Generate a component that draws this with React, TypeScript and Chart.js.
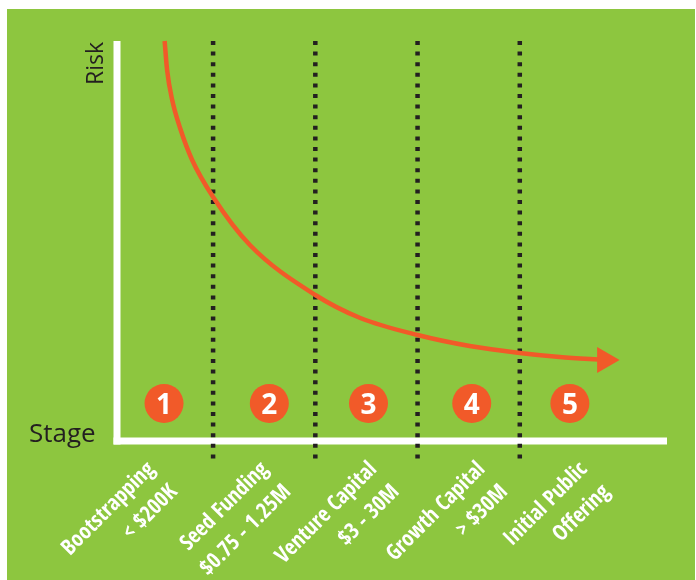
import React, { useEffect, useRef } from "react";
import { Chart, registerables } from "chart.js";

Chart.register(...registerables);

// ---- data ----
const stageLabels: string[][] = [
  ["Bootstrapping", "< $200K"],
  ["Seed Funding", "$0.75 - 1.25M"],
  ["Venture Capital", "$3 - 30M"],
  ["Growth Capital", "> $30M"],
  ["Initial Public", "Offering"],
];
const stageNumbers = ["1", "2", "3", "4", "5"];
const stageMarkerX = [0.52, 1.55, 2.52, 3.53, 4.49];
const stageMarkerY = [9.4, 9.4, 9.4, 9.4, 9.4];
const stageLabelX = [0.4, 1.51, 2.57, 3.63, 4.63];
const stageBoundaries = [1, 2, 3, 4];
const riskCurveX = [0.526, 0.55, 0.6, 0.677, 0.795, 1.0, 1.36, 2.0, 2.44, 3.0, 3.51, 4.0, 4.39, 4.83];
const riskCurveY = [100, 92.75, 85.25, 78.25, 70.25, 61, 49, 36.5, 30.75, 26.5, 23.75, 22, 21, 20.25];
const yAxisTitle = "Risk";
const xAxisTitle = "Stage";

const GREEN = "#8DC63F";
const ORANGE = "#F15A29";
const DARK = "#231F20";

const decor = {
  id: "decor",
  beforeDraw(chart: any) {
    const { ctx, width, height } = chart;
    ctx.save();
    ctx.fillStyle = "#ffffff";
    ctx.fillRect(0, 0, width, height);
    ctx.fillStyle = GREEN;
    ctx.fillRect(7, 9, 688, 571);
    ctx.restore();
  },
  beforeDatasetsDraw(chart: any) {
    const { ctx, chartArea, scales } = chart;
    const { left, right, top, bottom } = chartArea;
    const x = scales.x;
    ctx.save();
    // axes
    ctx.fillStyle = "#ffffff";
    ctx.fillRect(left - 3.5, top, 7, bottom - top + 3.5);
    ctx.fillRect(left - 3.5, bottom - 3.5, right - left + 3.5, 7);
    // dotted stage boundaries
    ctx.strokeStyle = DARK;
    ctx.lineWidth = 4.5;
    ctx.lineCap = "butt";
    ctx.setLineDash([4, 6.6]);
    stageBoundaries.forEach((v) => {
      const px = x.getPixelForValue(v);
      ctx.beginPath();
      ctx.moveTo(px, top);
      ctx.lineTo(px, bottom + 21);
      ctx.stroke();
    });
    ctx.setLineDash([]);
    // axis titles
    ctx.fillStyle = DARK;
    ctx.font = '26px "Open Sans"';
    ctx.textAlign = "left";
    ctx.textBaseline = "alphabetic";
    ctx.fillText(xAxisTitle, 29, bottom + 1);
    ctx.translate(103, top + 1);
    ctx.rotate(-Math.PI / 2);
    ctx.textAlign = "right";
    ctx.font = '23px "Open Sans"';
    ctx.fillText(yAxisTitle, 0, 0);
    ctx.restore();
  },
  afterDatasetsDraw(chart: any) {
    const { ctx } = chart;
    const meta = chart.getDatasetMeta(1);
    ctx.save();
    ctx.fillStyle = "#ffffff";
    ctx.font = 'bold 28px "Open Sans"';
    ctx.textAlign = "center";
    ctx.textBaseline = "alphabetic";
    meta.data.forEach((el: any, i: number) => {
      ctx.fillText(stageNumbers[i], el.x, el.y + 10.5);
    });
    ctx.restore();
  },
};

export default function App() {
  const ref = useRef<HTMLCanvasElement | null>(null);
  useEffect(() => {
    if (!ref.current) return;
    const chart = new Chart(ref.current, {
      type: "line",
      data: {
        datasets: [
          {
            data: riskCurveX.map((x, i) => ({ x, y: riskCurveY[i] })),
            borderColor: ORANGE,
            borderWidth: 4.5,
            cubicInterpolationMode: "monotone",
            fill: false,
            clip: false,
            pointStyle: "triangle",
            pointRotation: 90,
            pointRadius: riskCurveX.map((_, i) => (i === riskCurveX.length - 1 ? 15 : 0)),
            pointBackgroundColor: ORANGE,
            pointBorderWidth: 0,
          },
          {
            data: stageMarkerX.map((x, i) => ({ x, y: stageMarkerY[i] })),
            showLine: false,
            clip: false,
            pointStyle: "circle",
            pointRadius: 19.5,
            pointBackgroundColor: ORANGE,
            pointBorderWidth: 0,
          },
        ],
      } as any,
      options: {
        animation: false,
        responsive: false,
        events: [],
        layout: { padding: { left: 117, right: 29, top: 41, bottom: 0 } },
        plugins: {
          legend: { display: false },
          tooltip: { enabled: false },
          title: { display: false },
        },
        scales: {
          x: {
            type: "linear",
            min: 0.06,
            max: 5.44,
            grid: { display: false },
            border: { display: false },
            afterBuildTicks: (s: any) => {
              s.ticks = stageLabelX.map((v) => ({ value: v }));
            },
            afterFit: (s: any) => {
              s.height = 139;
            },
            ticks: {
              autoSkip: false,
              minRotation: 45,
              maxRotation: 45,
              padding: 6,
              color: "#ffffff",
              font: {
                family: "'Open Sans Condensed', 'Roboto Condensed', sans-serif",
                weight: "bold",
                size: 22,
                lineHeight: 1.45,
              },
              callback: (_v: any, i: number) => stageLabels[i],
            },
          },
          y: { type: "linear", min: 0, max: 100, display: false },
        },
      } as any,
      plugins: [decor],
    });
    return () => chart.destroy();
  }, []);
  return (
    <div style={{ position: "fixed", left: 0, top: 0, width: 696, height: 580, background: "#fff" }}>
      <canvas ref={ref} width={696} height={580} style={{ display: "block" }} />
    </div>
  );
}
